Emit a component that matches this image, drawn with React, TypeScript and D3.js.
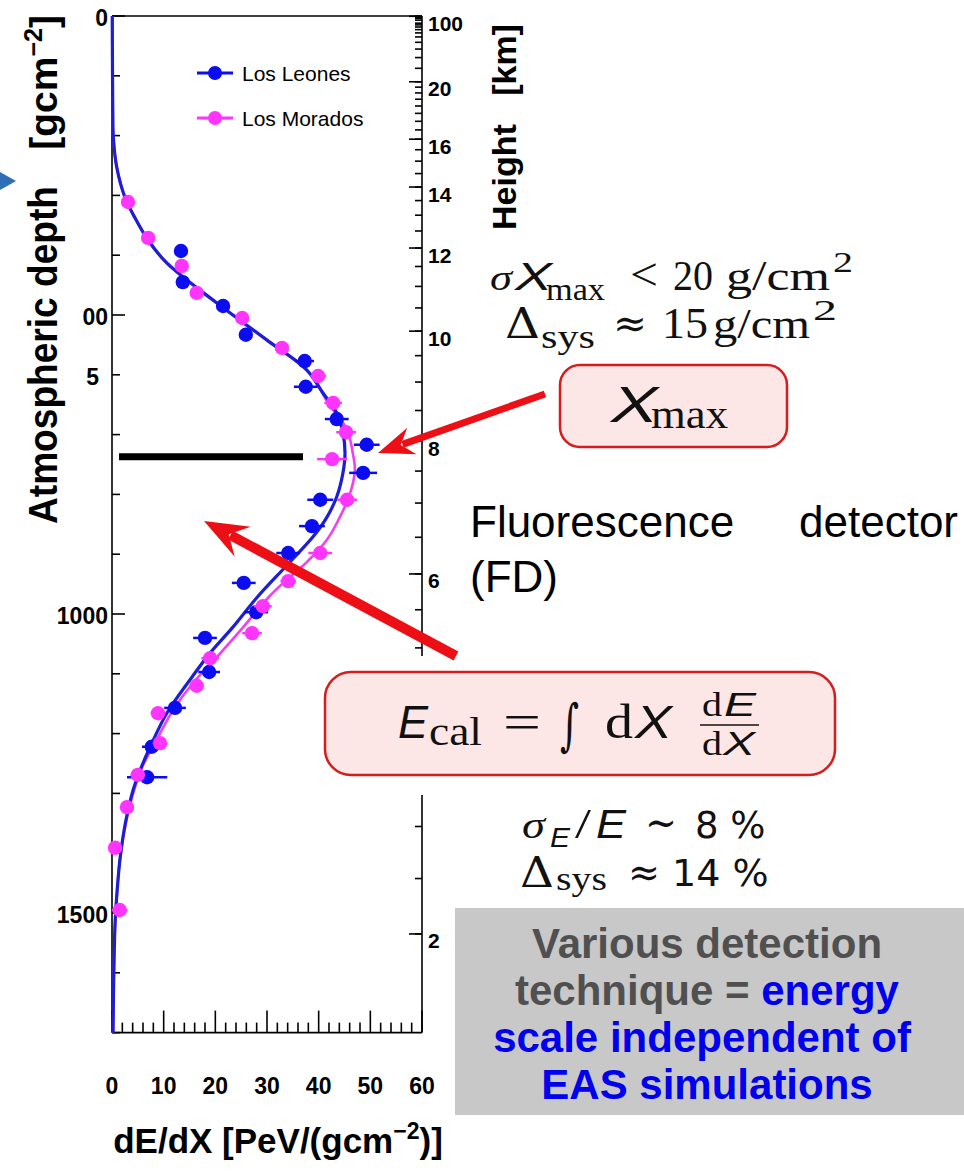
import React from "react";
import * as d3 from "d3";

// ---------- data ----------
const leonesDepth = [393, 445, 485, 533, 577, 620, 674, 717, 764, 809, 853, 898, 948, 997, 1040, 1097, 1157, 1222, 1273];
const leonesDEdX = [13.35, 13.7, 21.5, 25.9, 37.3, 37.5, 43.5, 49.3, 48.6, 40.3, 38.7, 34.1, 25.5, 27.9, 18.0, 18.8, 12.2, 7.7, 6.8];
const leonesErr = [1.0, 1.2, 1.2, 1.2, 1.8, 2.3, 2.3, 2.5, 2.7, 2.5, 2.5, 2.3, 2.3, 2.3, 2.3, 2.1, 2.1, 1.9, 3.9];

const moradosDepth = [311, 371, 418, 463, 505, 555, 602, 647, 696, 741, 809, 898, 945, 987, 1032, 1074, 1120, 1166, 1216, 1269, 1323, 1391, 1495];
const moradosDEdX = [3.1, 7.0, 13.5, 16.4, 25.2, 32.9, 39.9, 42.8, 45.3, 42.6, 45.5, 40.3, 34.1, 29.2, 27.1, 19.0, 16.4, 8.9, 9.3, 5.0, 2.9, 0.6, 1.5];
const moradosErr = [1.0, 1.0, 1.0, 1.0, 1.2, 1.2, 1.5, 1.7, 1.9, 2.9, 1.9, 2.3, 1.5, 1.7, 1.9, 1.7, 1.4, 1.4, 1.4, 1.4, 1.2, 1.2, 1.5];

const leonesFitDepth = [0, 100, 160, 202, 252, 303, 340, 375, 413, 480, 542, 592, 630, 664, 697, 731, 764, 804, 838, 871, 918, 972, 1022, 1065, 1110, 1166, 1222, 1260, 1294, 1349, 1406, 1462, 1517, 1600, 1700];
const leonesFitDEdX = [0.05, 0.1, 0.15, 0.25, 0.9, 2.5, 4.6, 7.0, 10.6, 20.3, 30.0, 37.7, 40.8, 43.5, 44.7, 45.1, 44.7, 43.5, 41.6, 38.9, 33.9, 28.1, 23.4, 19.0, 15.1, 10.6, 7.4, 5.5, 4.1, 2.6, 1.6, 1.0, 0.6, 0.35, 0.2];

const moradosFitDepth = [0, 100, 160, 202, 252, 303, 340, 375, 413, 480, 542, 595, 647, 692, 731, 759, 798, 838, 876, 915, 945, 972, 1022, 1072, 1115, 1161, 1216, 1253, 1294, 1349, 1406, 1462, 1517, 1600, 1700];
const moradosFitDEdX = [0.05, 0.1, 0.15, 0.25, 0.9, 2.5, 4.6, 7.0, 10.6, 20.3, 30.0, 38.1, 41.8, 45.5, 46.6, 47.0, 46.1, 44.1, 41.6, 37.5, 33.5, 30.3, 25.4, 20.3, 15.7, 11.8, 8.3, 6.0, 4.3, 2.7, 1.6, 1.0, 0.6, 0.35, 0.2];

const xmaxDepth = 737;

const depthLabelValues = [0, 500, 600, 1000, 1500];
const depthLabelTexts = ["0", "00", "5", "1000", "1500"];
const dEdXLabels = [0, 10, 20, 30, 40, 50, 60];

// height axis: height (km) -> atmospheric depth
const heightNodesKm = [100, 50, 40, 30, 25, 20, 16, 14, 12, 10, 8, 6, 2];
const heightNodesDepth = [0.5, 4, 12, 35, 62, 110, 206, 286, 388, 527, 711, 933, 1535];
const heightLabels = [100, 20, 16, 14, 12, 10, 8, 6, 2];
const heightMinor = [
  ...d3.range(2, 20.01, 0.5),
  22, 24, 26, 28, 30, 32, 34, 36, 38, 40, 45, 50, 60, 70, 80, 90, 100,
];

const legendNames = ["Los Leones", "Los Morados"];

// ---------- layout ----------
const W = 964, H = 1176;
const X0 = 112, X1 = 422, Y0 = 16, Y1 = 1032.6;

const SANS = "'Liberation Sans', Arial, Helvetica, sans-serif";
const DSANS = "'DejaVu Sans', 'Liberation Sans', sans-serif";
const SERIF = "'Liberation Serif', 'DejaVu Serif', serif";
const DSERIF = "'DejaVu Serif', 'Liberation Serif', serif";
const BLUE = "#0c0cf0";
const BLUE_LINE = "#1e1ed2";
const MAG = "#ff35ff";
const MAG_LINE = "#f040f0";
const RED = "#ec1016";
const INK = "#111";

const x = d3.scaleLinear().domain([0, 60]).range([X0, X1]);
const y = d3.scaleLinear().domain([0, 1700]).range([Y0, Y1]);
const hToLogDepth = d3.scaleLinear().domain(heightNodesKm).range(heightNodesDepth.map(Math.log));
const hToY = (h: number) => y(Math.exp(hToLogDepth(h)));

function arrowPath(tx: number, ty: number, hx: number, hy: number, L: number, Wd: number, notch: number) {
  const dx = hx - tx, dy = hy - ty;
  const len = Math.hypot(dx, dy);
  const ux = dx / len, uy = dy / len;
  const nx = -uy, ny = ux;
  const bx = hx - L * ux, by = hy - L * uy;
  const p1 = [bx + Wd * nx, by + Wd * ny];
  const p2 = [bx - Wd * nx, by - Wd * ny];
  const pn = [hx - notch * ux, hy - notch * uy];
  return `M${hx},${hy}L${p1[0]},${p1[1]}L${pn[0]},${pn[1]}L${p2[0]},${p2[1]}Z`;
}

function Arrow(props: { tail: [number, number]; tip: [number, number]; width: number; L: number; Wd: number; notch: number }) {
  const { tail, tip, width, L, Wd, notch } = props;
  const dx = tip[0] - tail[0], dy = tip[1] - tail[1];
  const len = Math.hypot(dx, dy);
  const ex = tip[0] - (dx / len) * (notch + 2);
  const ey = tip[1] - (dy / len) * (notch + 2);
  return (
    <g>
      <line x1={tail[0]} y1={tail[1]} x2={ex} y2={ey} stroke={RED} strokeWidth={width} />
      <path d={arrowPath(tail[0], tail[1], tip[0], tip[1], L, Wd, notch)} fill={RED} />
    </g>
  );
}

// a text piece, optionally fitted to a given width
function T(props: { x: number; y: number; w?: number; size: number; family?: string; italic?: boolean; children: any; adjust?: string }) {
  const { x: px, y: py, w, size, family, italic, children, adjust } = props;
  return (
    <text
      x={px}
      y={py}
      fontFamily={family || SERIF}
      fontStyle={italic ? "italic" : "normal"}
      fontSize={size}
      fill={INK}
      textLength={w}
      lengthAdjust={w ? adjust || "spacingAndGlyphs" : undefined}
      xmlSpace="preserve"
    >
      {children}
    </text>
  );
}

export default function App() {
  const line = d3
    .line<[number, number]>()
    .x((d) => x(d[1]))
    .y((d) => y(d[0]))
    .curve(d3.curveCatmullRom.alpha(0.5));

  const leonesFit = leonesFitDepth.map((d, i) => [d, leonesFitDEdX[i]] as [number, number]);
  const moradosFit = moradosFitDepth.map((d, i) => [d, moradosFitDEdX[i]] as [number, number]);

  const depthTicks = d3.range(0, 1701, 100);
  const dEdXTicks = d3.range(0, 60.01, 2);

  const points = (depths: number[], vals: number[], errs: number[], color: string) =>
    depths.map((d, i) => (
      <g key={i}>
        <line x1={x(vals[i] - errs[i])} x2={x(vals[i] + errs[i])} y1={y(d)} y2={y(d)} stroke={color} strokeWidth={2.5} />
        <circle cx={x(vals[i])} cy={y(d)} r={7.2} fill={color} />
      </g>
    ));

  return (
    <svg width={W} height={H} viewBox={`0 0 ${W} ${H}`} style={{ position: "absolute", left: 0, top: 0, background: "#fff" }}>
      <rect x={0} y={0} width={W} height={H} fill="#fff" />

      {/* blue side marker */}
      <path d="M0,172 L16,181 L0,190 Z" fill="#2f6fba" />

      {/* frame */}
      <g stroke="#000" strokeWidth={1.6} fill="none">
        <line x1={X0} y1={Y0} x2={X1} y2={Y0} />
        <line x1={X0} y1={Y0} x2={X0} y2={Y1} />
        <line x1={X0} y1={Y1} x2={X1} y2={Y1} />
        <line x1={X1} y1={Y0} x2={X1} y2={Y1} />
        {depthTicks.map((t) => (
          <line key={"dt" + t} x1={X0} x2={X0 + (t % 500 === 0 ? 13 : 8)} y1={y(t)} y2={y(t)} />
        ))}
        {dEdXTicks.map((t) => (
          <line key={"xt" + t} x1={x(t)} x2={x(t)} y1={Y1} y2={Y1 - (Math.round(t) % 10 === 0 ? 22 : 10)} />
        ))}
        {heightLabels.map((h) => (
          <line key={"hm" + h} x1={X1} x2={X1 - 13} y1={hToY(h)} y2={hToY(h)} />
        ))}
        {heightMinor.map((h) => (
          <line key={"hn" + h} x1={X1} x2={X1 - 7} y1={hToY(h)} y2={hToY(h)} />
        ))}
      </g>

      {/* axis labels */}
      <g fontFamily={SANS} fontWeight="bold" fontSize={23} fill="#000">
        {depthLabelValues.map((v, i) => (
          <text key={"dl" + v} x={v === 600 ? 99 : 108} y={y(v) + 2} textAnchor="end" dominantBaseline="central">
            {depthLabelTexts[i]}
          </text>
        ))}
        {dEdXLabels.map((v) => (
          <text key={"xl" + v} x={x(v)} y={1086} textAnchor="middle" dominantBaseline="central">
            {v}
          </text>
        ))}
        {heightLabels.map((h) => (
          <text key={"hl" + h} x={428} y={hToY(h) + 7} dominantBaseline="central" fontSize={21}>
            {h}
          </text>
        ))}
      </g>

      {/* axis titles */}
      <text x={278} y={1153} textAnchor="middle" fontFamily={SANS} fontWeight="bold" fontSize={35}>
        dE/dX [PeV/(gcm<tspan dy={-14} fontSize={23}>−2</tspan><tspan dy={14}>)]</tspan>
      </text>
      <text transform="translate(57,524) rotate(-90)" fontFamily={SANS} fontWeight="bold" fontSize={40} textLength={338} lengthAdjust="spacingAndGlyphs">
        Atmospheric depth
      </text>
      <text transform="translate(57,15) rotate(-90)" textAnchor="end" fontFamily={SANS} fontWeight="bold" fontSize={39}>
        [gcm<tspan dy={-15} fontSize={25}>−2</tspan><tspan dy={15}>]</tspan>
      </text>
      <text transform="translate(516,127) rotate(-90)" textAnchor="middle" fontFamily={SANS} fontWeight="bold" fontSize={34} xmlSpace="preserve">
        Height   [km]
      </text>

      {/* Xmax bar */}
      <line x1={119} x2={303} y1={y(xmaxDepth)} y2={y(xmaxDepth)} stroke="#000" strokeWidth={7} />

      {/* fits */}
      <path d={line(moradosFit) || ""} fill="none" stroke={MAG_LINE} strokeWidth={2.6} />
      <path d={line(leonesFit) || ""} fill="none" stroke={BLUE_LINE} strokeWidth={3.2} />

      {/* data points */}
      {points(leonesDepth, leonesDEdX, leonesErr, BLUE)}
      {points(moradosDepth, moradosDEdX, moradosErr, MAG)}

      {/* legend */}
      {legendNames.map((n, i) => {
        const c = i === 0 ? BLUE : MAG;
        const ly = 73 + i * 45;
        return (
          <g key={n}>
            <line x1={197} x2={233} y1={ly} y2={ly} stroke={c} strokeWidth={3} />
            <circle cx={215} cy={ly} r={7} fill={c} />
            <text x={242} y={ly} dominantBaseline="central" fontFamily={SANS} fontSize={21}>
              {n}
            </text>
          </g>
        );
      })}

      {/* white gap in right axis behind E_cal box */}
      <rect x={405} y={656} width={40} height={139} fill="#fff" />

      {/* arrows */}
      <Arrow tail={[545, 394]} tip={[378, 453]} width={7} L={36} Wd={14} notch={24} />
      <Arrow tail={[456, 656]} tip={[204, 521]} width={10} L={44} Wd={17} notch={28} />

      {/* sigma Xmax texts */}
      <T x={490} y={290} w={22} size={36} italic>σ</T>
      <T x={515} y={290} w={37} size={38} family={SANS} italic>X</T>
      <T x={546} y={300} w={59} size={32}>max</T>
      <T x={630} y={290} w={28} size={46}>&lt;</T>
      <T x={673} y={290} w={40} size={42}>20</T>
      <T x={726} y={290} w={104} size={42}>g/cm</T>
      <T x={833} y={272} w={20} size={30}>2</T>

      <T x={505} y={338} w={35} size={42} family={DSERIF}>Δ</T>
      <T x={541} y={348} w={54} size={34}>sys</T>
      <T x={613} y={337} w={34} size={40} family={DSERIF}>≈</T>
      <T x={662} y={338} w={46} size={44}>15</T>
      <T x={713} y={338} w={97} size={42}>g/cm</T>
      <T x={813} y={320} w={24} size={30}>2</T>

      {/* Xmax box */}
      <rect x={560} y={365} width={227} height={82} rx={20} fill="#fde6e6" stroke="#d41e1e" strokeWidth={2.5} />
      <T x={611} y={422} w={47} size={50} family={SANS} italic>X</T>
      <T x={651} y={428} w={77} size={40}>max</T>

      {/* Fluorescence detector */}
      <g fontFamily={SANS} fontSize={44} fill="#000">
        <text x={470} y={537}>Fluorescence</text>
        <text x={958} y={537} textAnchor="end">detector</text>
        <text x={470} y={592}>(FD)</text>
      </g>

      {/* E_cal box */}
      <rect x={325} y={672} width={510} height={103} rx={26} fill="#fde6e6" stroke="#d41e1e" strokeWidth={2.5} />
      <T x={398} y={738} w={30} size={46} family={SANS} italic>E</T>
      <T x={429} y={745} w={53} size={40}>cal</T>
      <T x={503} y={739} w={38} size={50}>=</T>
      <T x={560} y={744} w={19} size={56} family={DSERIF}>∫</T>
      <T x={605} y={738} w={28} size={48}>d</T>
      <T x={635} y={738} w={37} size={46} family={SANS} italic>X</T>
      <T x={702} y={716} w={20} size={34}>d</T>
      <T x={724} y={716} w={32} size={34} family={SANS} italic>E</T>
      <line x1={700} x2={759} y1={725} y2={725} stroke={INK} strokeWidth={1.6} />
      <T x={702} y={755} w={20} size={34}>d</T>
      <T x={723} y={755} w={32} size={34} family={SANS} italic>X</T>

      {/* energy resolution */}
      <T x={522} y={838} w={23} size={38} italic>σ</T>
      <T x={550} y={847} w={20} size={28} family={SANS} italic>E</T>
      <T x={575} y={838} w={16} size={42}>/</T>
      <T x={596} y={838} w={30} size={40} family={SANS} italic>E</T>
      <T x={645} y={837} w={32} size={42} family={DSERIF}>∼</T>
      <T x={695} y={838} size={37} family={DSANS}>8 %</T>

      <T x={520} y={887} w={34} size={42} family={DSERIF}>Δ</T>
      <T x={556} y={890} w={51} size={34}>sys</T>
      <T x={628} y={886} w={32} size={40} family={DSERIF}>≈</T>
      <T x={672} y={886} size={38} family={DSANS}>14 %</T>

      {/* gray box */}
      <rect x={455} y={908} width={509} height={207} fill="#c8c8c8" />
      <g fontFamily={SANS} fontWeight="bold" fontSize={42} textAnchor="middle">
        <text x={707} y={958} fill="#505050">Various detection</text>
        <text x={707} y={1005} fill="#505050">
          technique = <tspan fill="#0000ee">energy</tspan>
        </text>
        <text x={702} y={1052} fill="#0000ee">scale independent of</text>
        <text x={707} y={1099} fill="#0000ee">EAS simulations</text>
      </g>
    </svg>
  );
}
